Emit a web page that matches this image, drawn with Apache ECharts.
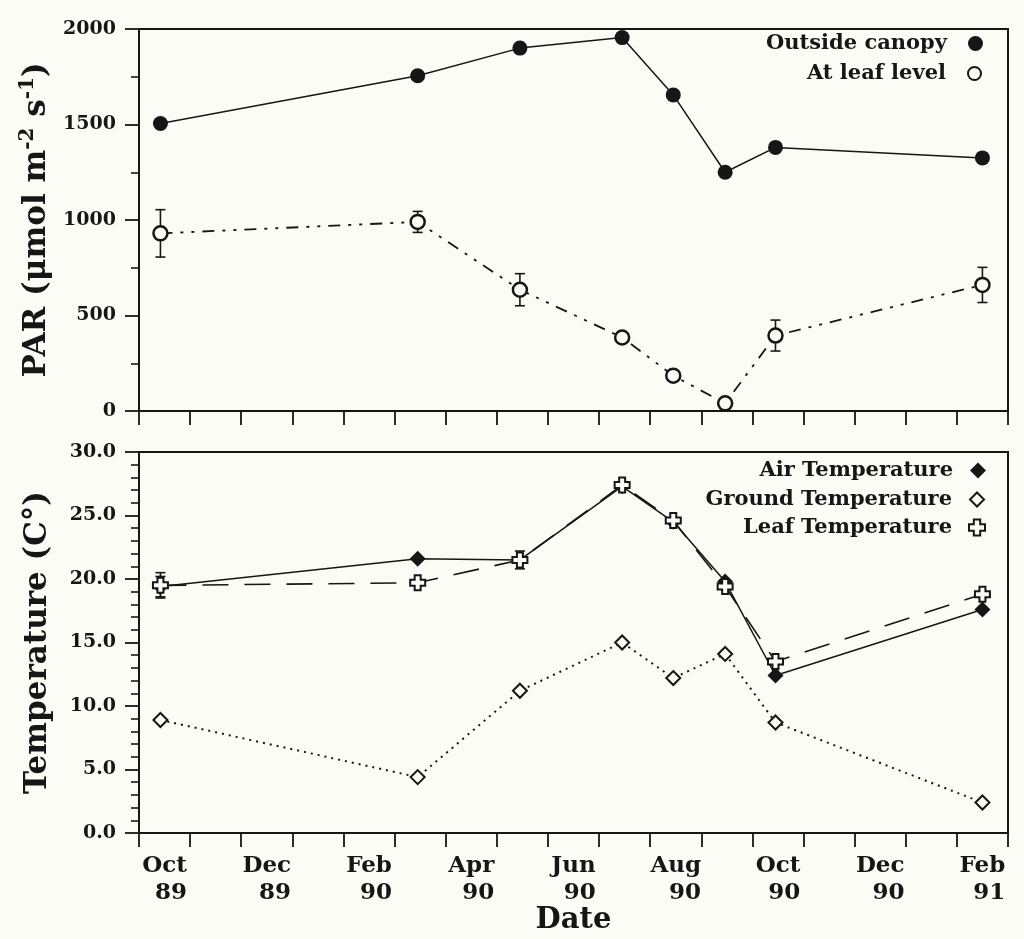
<!DOCTYPE html>
<html>
<head>
<meta charset="utf-8">
<script src="https://cdn.jsdelivr.net/npm/echarts@6/dist/echarts.min.js"></script>
<style>
html, body { margin: 0; padding: 0; background: #fcfcf6; }
#chart { width: 1024px; height: 939px; }
</style>
</head>
<body>
<div id="chart"></div>
<script>
// Sampling dates, shared by every series
const sampleDates = ['1989-10-14', '1990-03-15', '1990-05-15', '1990-07-15',
                     '1990-08-15', '1990-09-15', '1990-10-15', '1991-02-15'];

// Photosynthetically active radiation (µmol m-2 s-1)
const parOutside = [1505, 1755, 1900, 1955, 1655, 1250, 1380, 1325];
const parLeaf    = [930, 990, 635, 385, 185, 40, 395, 660];
const parLeafErr = [124, 55, 84, null, null, null, 81, 92];

// Temperatures (°C)
const airTemp     = [19.4, 21.6, 21.5, 27.3, 24.5, 19.8, 12.4, 17.6];
const groundTemp  = [8.9, 4.4, 11.2, 15.0, 12.2, 14.1, 8.7, 2.4];
const leafTemp    = [19.5, 19.7, 21.5, 27.4, 24.6, 19.4, 13.5, 18.8];
const airTempErr  = [0.8, null, null, null, null, null, null, null];
const leafTempErr = [1.0, null, 0.7, null, null, null, null, null];

// One slot per month from Oct 1989 to Feb 1991; every second month is labelled
const monthTicks = ['Oct 89', '', 'Dec 89', '', 'Feb 90', '', 'Apr 90', '', 'Jun 90', '',
                    'Aug 90', '', 'Oct 90', '', 'Dec 90', '', 'Feb 91'];

const INK = '#161616';
const PAPER = '#fcfcf6';
const FONT = 'DejaVu Serif';

// Dates are placed on a month scale that starts on 1 Oct 1989
function monthOffset(s) {
  const [y, m, d] = s.split('-').map(Number);
  const daysInMonth = new Date(y, m, 0).getDate();
  return (y - 1989) * 12 + (m - 10) + (d - 1) / daysInMonth;
}
const xs = sampleDates.map(monthOffset);
const pairs = vals => vals.map((v, i) => [xs[i], v]);

function errorBars(vals, errs, axisIdx) {
  return {
    type: 'custom',
    xAxisIndex: axisIdx, yAxisIndex: axisIdx,
    z: 1, silent: true,
    data: vals.map((v, i) => errs[i] == null ? null : [xs[i], v - errs[i], v + errs[i]])
              .filter(Boolean),
    encode: { x: 0, y: [1, 2] },
    renderItem: (params, api) => {
      const lo = api.coord([api.value(0), api.value(1)]);
      const hi = api.coord([api.value(0), api.value(2)]);
      const cap = 5;
      const st = { stroke: INK, lineWidth: 1.6 };
      return {
        type: 'group',
        children: [
          { type: 'line', shape: { x1: lo[0], y1: lo[1], x2: hi[0], y2: hi[1] }, style: st },
          { type: 'line', shape: { x1: lo[0] - cap, y1: lo[1], x2: lo[0] + cap, y2: lo[1] }, style: st },
          { type: 'line', shape: { x1: hi[0] - cap, y1: hi[1], x2: hi[0] + cap, y2: hi[1] }, style: st }
        ]
      };
    }
  };
}

const tickFont = { fontFamily: FONT, fontWeight: 'bold', fontSize: 19, color: INK };
const legendFont = { fontFamily: FONT, fontWeight: 'bold', fontSize: 21, color: INK };
const axisLine = { show: true, onZero: false, lineStyle: { color: INK, width: 2 } };

function monthAxis(gridIndex) {
  return {
    type: 'value', gridIndex, min: 0, max: 17, interval: 1,
    axisLine, axisTick: { show: true, length: 14, lineStyle: { color: INK, width: 1.8 } },
    axisLabel: { show: false }, splitLine: { show: false }
  };
}

function valueAxis(gridIndex, max, interval, minorSplit, fmt, name, rich) {
  return {
    type: 'value', gridIndex, min: 0, max, interval,
    axisLine,
    axisTick: { show: true, length: 14, lineStyle: { color: INK, width: 1.8 } },
    minorTick: { show: true, splitNumber: minorSplit, length: 8, lineStyle: { color: INK, width: 1.6 } },
    splitLine: { show: false },
    axisLabel: Object.assign({ margin: 23, formatter: fmt }, tickFont),
    name, nameLocation: 'middle', nameGap: 82,
    nameTextStyle: { rich }
  };
}

const nameBase = { fontFamily: FONT, fontWeight: 'bold', fontSize: 31, color: INK, lineHeight: 38 };
const parRich = {
  b: nameBase,
  s: Object.assign({}, nameBase, { fontSize: 20, verticalAlign: 'top', lineHeight: 38 })
};
const tempRich = { b: nameBase };

function legendItem(name, icon, top, right, pad, size) {
  return {
    data: [{ name, icon }], orient: 'vertical', right, top,
    align: 'right', itemWidth: size, itemHeight: size, selectedMode: false,
    textStyle: Object.assign({ padding: [0, pad, 0, 0] }, legendFont)
  };
}

const crossPath = 'path://M3,0 H7 V3 H10 V7 H7 V10 H3 V7 H0 V3 H3 Z';

const option = {
  backgroundColor: PAPER,
  animation: false,
  grid: [
    { left: 139, top: 29, width: 869, height: 382, show: true, borderColor: INK, borderWidth: 2 },
    { left: 139, top: 452, width: 869, height: 381, show: true, borderColor: INK, borderWidth: 2 }
  ],
  xAxis: [
    monthAxis(0),
    monthAxis(1),
    {
      type: 'category', gridIndex: 1, position: 'bottom', data: monthTicks, boundaryGap: true,
      axisLine: { show: false }, axisTick: { show: false },
      axisLabel: {
        interval: 0, margin: 20,
        formatter: v => {
          if (!v) return '';
          const [m, y] = v.split(' ');
          return '{m|' + m + '}\n{m|' + y + '}';
        },
        rich: { m: { fontFamily: FONT, fontWeight: 'bold', fontSize: 23, color: INK, lineHeight: 27, align: 'right' } }
      },
      name: 'Date', nameLocation: 'middle', nameGap: 72,
      nameTextStyle: { fontFamily: FONT, fontWeight: 'bold', fontSize: 29, color: INK }
    }
  ],
  yAxis: [
    valueAxis(0, 2000, 500, 2, v => String(v),
      '{b|PAR (μmol m}{s|-2}{b| s}{s|-1}{b|)}', parRich),
    valueAxis(1, 30, 5, 5, v => v.toFixed(1),
      '{b|Temperature (C°)}', tempRich)
  ],
  legend: [
    legendItem('Outside canopy', 'circle', 28, 36, 16, 15),
    legendItem('At leaf level', 'circle', 58, 37, 17, 13),
    legendItem('Air Temperature', 'diamond', 455, 33, 12, 16),
    legendItem('Ground Temperature', 'diamond', 484, 34, 13, 14),
    legendItem('Leaf Temperature', crossPath, 512, 33, 12, 16)
  ],
  series: [
    errorBars(parLeaf, parLeafErr, 0),
    errorBars(airTemp, airTempErr, 1),
    errorBars(leafTemp, leafTempErr, 1),
    {
      name: 'Outside canopy', type: 'line', xAxisIndex: 0, yAxisIndex: 0, z: 3,
      data: pairs(parOutside), symbol: 'circle', symbolSize: 15,
      itemStyle: { color: INK }, lineStyle: { color: INK, width: 1.5 }
    },
    {
      name: 'At leaf level', type: 'line', xAxisIndex: 0, yAxisIndex: 0, z: 3,
      data: pairs(parLeaf), symbol: 'circle', symbolSize: 14,
      itemStyle: { color: PAPER, borderColor: INK, borderWidth: 2.5 },
      lineStyle: { color: INK, width: 1.8, type: [12, 8, 3, 8, 3, 8] }
    },
    {
      name: 'Ground Temperature', type: 'line', xAxisIndex: 1, yAxisIndex: 1, z: 3,
      data: pairs(groundTemp), symbol: 'diamond', symbolSize: [14, 14],
      itemStyle: { color: PAPER, borderColor: INK, borderWidth: 2 },
      lineStyle: { color: INK, width: 2, type: [2, 5] }
    },
    {
      name: 'Air Temperature', type: 'line', xAxisIndex: 1, yAxisIndex: 1, z: 3,
      data: pairs(airTemp), symbol: 'diamond', symbolSize: [16, 16],
      itemStyle: { color: INK }, lineStyle: { color: INK, width: 1.5 }
    },
    {
      name: 'Leaf Temperature', type: 'line', xAxisIndex: 1, yAxisIndex: 1, z: 4,
      data: pairs(leafTemp), symbol: crossPath, symbolSize: [15, 15],
      itemStyle: { color: PAPER, borderColor: INK, borderWidth: 2 },
      lineStyle: { color: INK, width: 1.6, type: [26, 16] }
    }
  ]
};

const chart = echarts.init(document.getElementById('chart'), null, { renderer: 'canvas' });
chart.setOption(option);
</script>
</body>
</html>
